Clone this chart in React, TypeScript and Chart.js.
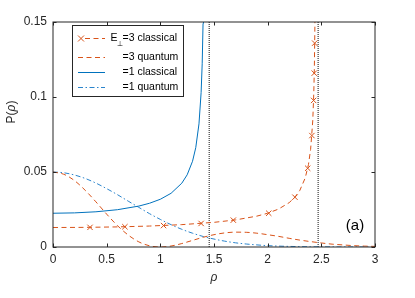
import React, { useEffect, useRef } from "react";
import { Chart, registerables } from "chart.js";

Chart.register(...registerables);

// ---------- data ----------
const xTickValues = [0, 0.5, 1, 1.5, 2, 2.5, 3];
const yTickValues = [0, 0.05, 0.1, 0.15];

// E=3 classical curve
const rhoE3Classical = [0, 0.3, 0.6, 0.9, 1.2, 1.5, 1.7, 1.9, 2.0, 2.1, 2.2, 2.25, 2.3, 2.35, 2.38, 2.4, 2.42, 2.43, 2.435, 2.44, 2.442];
const pE3Classical = [0.013, 0.01309, 0.0134, 0.01397, 0.01491, 0.01644, 0.01805, 0.02059, 0.02251, 0.02524, 0.02955, 0.03287, 0.03778, 0.04606, 0.05494, 0.06497, 0.084, 0.10321, 0.11964, 0.14777, 0.1663];
// E=3 classical markers
const rhoE3Markers = [0.345, 0.67, 1.03, 1.38, 1.68, 2.01, 2.254, 2.373, 2.412, 2.428, 2.434, 2.438];
const pE3Markers = [0.0131, 0.0135, 0.0143, 0.0157, 0.0179, 0.0225, 0.0332, 0.0525, 0.0743, 0.0977, 0.1159, 0.1359];

// E=3 quantum
const rhoQuantum = [0, 0.1, 0.2, 0.3, 0.4, 0.5, 0.6, 0.7, 0.8, 0.9, 1.0, 1.1, 1.2, 1.3, 1.4, 1.5, 1.6, 1.7, 1.8, 1.9, 2.0, 2.1, 2.2, 2.3, 2.4, 2.5, 2.6, 2.7, 2.8, 2.9, 3.0];
const pE3Quantum = [0.05, 0.0485, 0.0443, 0.0378, 0.0301, 0.0219, 0.0143, 0.008, 0.0034, 0.0008, 0, 0.00066, 0.0023, 0.0044, 0.0065, 0.0082, 0.0094, 0.0099, 0.0098, 0.0092, 0.0082, 0.0071, 0.0058, 0.0046, 0.0036, 0.0027, 0.0019, 0.0014, 0.0009, 0.0006, 0.0004];

// E=1 classical
const rhoE1Classical = [0, 0.2, 0.4, 0.6, 0.8, 0.9, 1.0, 1.1, 1.2, 1.25, 1.3, 1.33, 1.36, 1.38, 1.39, 1.398, 1.402];
const pE1Classical = [0.02251, 0.02274, 0.02347, 0.02486, 0.02729, 0.02918, 0.03183, 0.03581, 0.04254, 0.04812, 0.05717, 0.06621, 0.08208, 0.10294, 0.12214, 0.14907, 0.1716];

// E=1 quantum
const pE1Quantum = [0.05, 0.0495, 0.048, 0.0457, 0.0426, 0.0389, 0.0349, 0.0306, 0.0264, 0.0222, 0.0184, 0.0149, 0.0118, 0.0092, 0.007, 0.0053, 0.0039, 0.0028, 0.002, 0.0014, 0.0009, 0.0006, 0.0004, 0.00025, 0.00016, 0.0001, 0.00005, 0.00003, 0.00002, 0.00001, 0];

// turning points (dotted verticals)
const turningPoints = [1.455, 2.47];

const legendLabels = ["=3 classical", "=3 quantum", "=1 classical", "=1 quantum"];
const panelLabel = "(a)";

const ORANGE = "#D95319";
const BLUE = "#0072BD";
const BLUE_Q = "#2a84cc";
const INK = "#262626";
const FONT = "'Liberation Sans', Arial, Helvetica, sans-serif";

const zip = (xs: number[], ys: number[]) => xs.map((x, i) => ({ x, y: ys[i] }));

const decorPlugin = {
  id: "decor",
  afterDatasetsDraw(chart: any) {
    const ctx = chart.ctx as CanvasRenderingContext2D;
    const { left, right, top, bottom } = chart.chartArea;
    const xs = chart.scales.x;
    const ys = chart.scales.y;
    ctx.save();
    // frame
    ctx.strokeStyle = INK;
    ctx.lineWidth = 1;
    ctx.setLineDash([]);
    ctx.strokeRect(left, top, right - left, bottom - top);
    // ticks inward
    const tl = 3.5;
    ctx.beginPath();
    xTickValues.forEach((v) => {
      const px = Math.round(xs.getPixelForValue(v)) + 0.5;
      ctx.moveTo(px, bottom);
      ctx.lineTo(px, bottom - tl);
      ctx.moveTo(px, top);
      ctx.lineTo(px, top + tl);
    });
    yTickValues.forEach((v) => {
      const py = Math.round(ys.getPixelForValue(v)) + 0.5;
      ctx.moveTo(left, py);
      ctx.lineTo(left + tl, py);
      ctx.moveTo(right, py);
      ctx.lineTo(right - tl, py);
    });
    ctx.stroke();

    // axis labels
    ctx.fillStyle = INK;
    ctx.textBaseline = "middle";
    ctx.textAlign = "center";
    ctx.font = `italic 12px ${FONT}`;
    ctx.fillText("ρ", (left + right) / 2, 278);

    ctx.save();
    ctx.translate(12, 112);
    ctx.rotate(-Math.PI / 2);
    ctx.font = `12px ${FONT}`;
    const wP = ctx.measureText("P(").width;
    const wClose = ctx.measureText(")").width;
    ctx.font = `italic 12px ${FONT}`;
    const wRho = ctx.measureText("ρ").width;
    const total = wP + wRho + wClose;
    let cx = -total / 2;
    ctx.textAlign = "left";
    ctx.font = `12px ${FONT}`;
    ctx.fillText("P(", cx, 0);
    cx += wP;
    ctx.font = `italic 12px ${FONT}`;
    ctx.fillText("ρ", cx, 0);
    cx += wRho;
    ctx.font = `12px ${FONT}`;
    ctx.fillText(")", cx, 0);
    ctx.restore();

    // panel label
    ctx.font = `15px ${FONT}`;
    ctx.textAlign = "center";
    ctx.fillStyle = "#000";
    ctx.fillText(panelLabel, 355, 226);

    // legend
    const bx = 72.5, by = 25.5, bw = 111, bh = 71;
    ctx.fillStyle = "#fff";
    ctx.fillRect(bx, by, bw, bh);
    ctx.strokeStyle = INK;
    ctx.lineWidth = 1;
    ctx.strokeRect(bx, by, bw, bh);
    const rows = [38, 57, 72, 87];
    const styles = [
      { color: ORANGE, dash: [5, 3.5] },
      { color: ORANGE, dash: [5, 3.5] },
      { color: BLUE, dash: [] as number[] },
      { color: BLUE_Q, dash: [5, 2.5, 1.5, 2.5] },
    ];
    rows.forEach((ry, i) => {
      const y = ry + 0.5;
      ctx.strokeStyle = styles[i].color;
      ctx.setLineDash(styles[i].dash);
      ctx.beginPath();
      ctx.moveTo(i === 0 ? 85 : 78, y);
      ctx.lineTo(105, y);
      ctx.stroke();
    });
    ctx.setLineDash([]);
    // marker in first row
    ctx.strokeStyle = ORANGE;
    ctx.beginPath();
    const mx = 81, my = 38.5, r = 3;
    ctx.moveTo(mx - r, my - r);
    ctx.lineTo(mx + r, my + r);
    ctx.moveTo(mx - r, my + r);
    ctx.lineTo(mx + r, my - r);
    ctx.stroke();

    ctx.fillStyle = "#000";
    ctx.textAlign = "left";
    ctx.textBaseline = "middle";
    ctx.font = `10.5px ${FONT}`;
    ctx.fillText("E", 110.5, 38);
    ctx.font = `7px ${FONT}`;
    ctx.fillText("⊥", 117, 44);
    ctx.font = `10.5px ${FONT}`;
    rows.forEach((ry, i) => {
      ctx.fillText(legendLabels[i], 122.5, ry);
    });
    ctx.restore();
  },
};

export default function App() {
  const ref = useRef<HTMLCanvasElement | null>(null);
  useEffect(() => {
    if (!ref.current) return;
    Chart.defaults.font.family = FONT;
    const chart = new Chart(ref.current, {
      type: "line",
      data: {
        datasets: [
          {
            label: "E3 classical",
            data: zip(rhoE3Classical, pE3Classical),
            borderColor: ORANGE,
            borderWidth: 1,
            borderDash: [5, 3.5],
            pointRadius: 0,
            tension: 0,
          },
          {
            label: "E3 markers",
            data: zip(rhoE3Markers, pE3Markers),
            showLine: false,
            borderColor: ORANGE,
            backgroundColor: ORANGE,
            pointStyle: "crossRot",
            pointRadius: 3.8,
            pointBorderWidth: 1,
          },
          {
            label: "E3 quantum",
            data: zip(rhoQuantum, pE3Quantum),
            borderColor: ORANGE,
            borderWidth: 1,
            borderDash: [5, 3.5],
            pointRadius: 0,
            cubicInterpolationMode: "monotone",
          },
          {
            label: "E1 classical",
            data: zip(rhoE1Classical, pE1Classical),
            borderColor: BLUE,
            borderWidth: 1,
            pointRadius: 0,
            tension: 0,
          },
          {
            label: "E1 quantum",
            data: zip(rhoQuantum, pE1Quantum),
            borderColor: BLUE_Q,
            borderWidth: 1,
            borderDash: [5, 2.5, 1.5, 2.5],
            pointRadius: 0,
            cubicInterpolationMode: "monotone",
          },
          ...turningPoints.map((tp) => ({
            label: "turning " + tp,
            data: [
              { x: tp, y: 0 },
              { x: tp, y: 0.15 },
            ],
            borderColor: "#111",
            borderWidth: 1,
            borderDash: [1, 1],
            pointRadius: 0,
          })),
        ],
      },
      options: {
        animation: false,
        responsive: false,
        devicePixelRatio: 1,
        layout: { padding: { left: 0, top: 22, right: 40, bottom: 0 } },
        plugins: { legend: { display: false }, tooltip: { enabled: false } },
        scales: {
          x: {
            type: "linear",
            min: 0,
            max: 3,
            grid: { display: false, drawTicks: false },
            border: { display: false },
            ticks: {
              stepSize: 0.5,
              autoSkip: false,
              maxRotation: 0,
              padding: 5,
              color: INK,
              font: { size: 12, family: FONT },
              callback: (v: any) => String(Number(Number(v).toFixed(1))),
            },
            afterFit: (s: any) => {
              s.height = 51;
            },
          },
          y: {
            type: "linear",
            min: 0,
            max: 0.15,
            grid: { display: false, drawTicks: false },
            border: { display: false },
            ticks: {
              stepSize: 0.05,
              padding: 6,
              color: INK,
              font: { size: 12, family: FONT },
              callback: (v: any) => String(Number(Number(v).toFixed(2))),
            },
            afterFit: (s: any) => {
              s.width = 53;
            },
          },
        },
      },
      plugins: [decorPlugin],
    } as any);
    return () => chart.destroy();
  }, []);
  return (
    <div style={{ position: "absolute", left: 0, top: 0, width: 415, height: 298, background: "#fff" }}>
      <canvas ref={ref} width={415} height={298} />
    </div>
  );
}
